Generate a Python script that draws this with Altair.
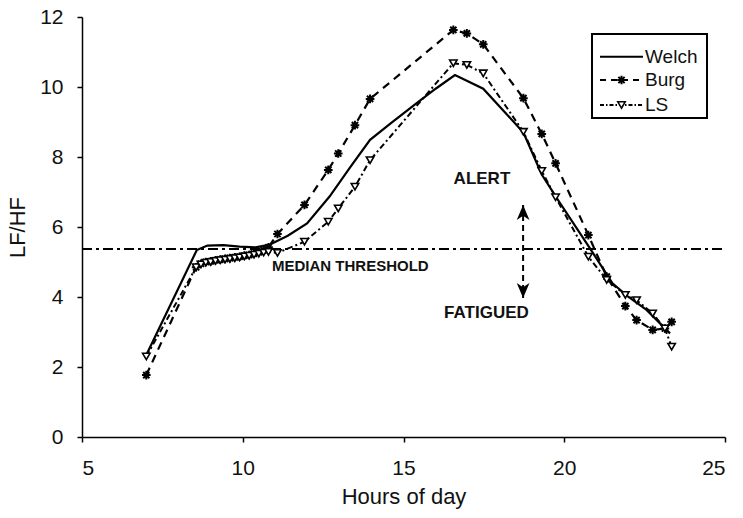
import altair as alt
import pandas as pd

# Sample times (hours of day) shared by the Burg and LS estimates
hours = [7.0, 8.55, 8.7, 8.85, 9.0, 9.15, 9.3, 9.45, 9.6, 9.75, 9.9, 10.05, 10.2,
         10.35, 10.5, 10.65, 10.8, 11.08, 11.92, 12.66, 12.97, 13.49, 13.96,
         16.55, 16.97, 17.48, 18.73, 19.3, 19.73, 20.75, 21.32, 21.9, 22.25,
         22.75, 23.13, 23.34]
burg = [1.77, 4.85, 4.95, 5.0, 5.02, 5.05, 5.07, 5.09, 5.11, 5.13, 5.15, 5.18, 5.2,
        5.24, 5.28, 5.34, 5.42, 5.8, 6.63, 7.63, 8.1, 8.91, 9.66,
        11.63, 11.53, 11.22, 9.68, 8.66, 7.82, 5.77, 4.58, 3.74, 3.34,
        3.06, 3.1, 3.29]
ls = [2.3, 4.85, 4.93, 4.98, 5.0, 5.03, 5.05, 5.07, 5.09, 5.11, 5.13, 5.16, 5.18,
      5.21, 5.24, 5.27, 5.29, 5.26, 5.58, 6.15, 6.53, 7.15, 7.91,
      10.68, 10.63, 10.39, 8.72, 7.6, 6.85, 5.15, 4.49, 4.06, 3.91,
      3.53, 3.1, 2.58]

# Welch estimate (drawn as a plain line)
welch_hours = [7.0, 8.57, 8.9, 9.4, 9.9, 10.4, 10.85, 11.4, 12.0, 12.7, 13.35,
               13.96, 14.6, 15.4, 16.0, 16.6, 17.48, 18.73, 19.3, 19.75, 20.8,
               21.5, 22.0, 22.56, 23.29]
welch = [2.34, 5.34, 5.47, 5.48, 5.44, 5.42, 5.5, 5.75, 6.1, 6.87, 7.72,
         8.49, 8.96, 9.53, 9.95, 10.34, 9.95, 8.7, 7.5, 6.85, 5.39,
         4.39, 4.0, 3.63, 2.96]

median_threshold = 5.37
arrow_hour = 18.72
arrow_top = 6.63
arrow_bottom = 3.97

x_ticks = [5, 10, 15, 20, 25]
y_ticks = [0, 2, 4, 6, 8, 10, 12]

notes = pd.DataFrame({
    "label": ["ALERT", "FATIGUED"],
    "h": [17.44, 17.58],
    "v": [7.37, 3.54],
})
median_note = pd.DataFrame({"label": ["MEDIAN THRESHOLD"], "h": [10.91], "v": [4.89]})

pts = pd.DataFrame({"h": hours, "burg": burg, "ls": ls})
wdf = pd.DataFrame({"h": welch_hours, "v": welch})
thr = pd.DataFrame({"h": [5], "h2": [25], "v": [median_threshold]})
arr = pd.DataFrame({"h": [arrow_hour], "top": [arrow_top], "bottom": [arrow_bottom]})

FONT = "Liberation Sans"
xs = alt.Scale(domain=[5, 25], nice=False, zero=False)
ys = alt.Scale(domain=[0, 12], nice=False)

x_axis = alt.Axis(values=x_ticks, title="Hours of day", grid=False, domainColor="black",
                  domainWidth=1.5, tickColor="black", tickSize=5, tickWidth=1.5,
                  labelFontSize=21, labelColor="#111", labelPadding=15,
                  titleFontSize=22, titleFontWeight="normal", titleColor="#111",
                  titlePadding=8, labelFont=FONT, titleFont=FONT)
y_axis = alt.Axis(values=y_ticks, title="LF/HF", grid=False, domainColor="black",
                  domainWidth=1.5, tickColor="black", tickSize=5, tickWidth=1.5,
                  labelFontSize=21, labelColor="#111", labelPadding=14,
                  titleFontSize=22, titleFontWeight="normal", titleColor="#111",
                  titlePadding=10, labelFont=FONT, titleFont=FONT)

X = alt.X("h:Q", scale=xs, axis=x_axis)
ASTERISK = "M-1,0L1,0M0,-1L0,1M-0.72,-0.72L0.72,0.72M-0.72,0.72L0.72,-0.72"
ARROW_UP = "M0,-1L0.85,1L0,0.45L-0.85,1Z"
ARROW_DOWN = "M0,1L0.85,-1L0,-0.45L-0.85,-1Z"

threshold_line = alt.Chart(thr).mark_rule(color="black", strokeWidth=2,
                                          strokeDash=[10, 4, 3, 4]).encode(
    x=X, x2="h2:Q", y=alt.Y("v:Q", scale=ys, axis=y_axis))

welch_line = alt.Chart(wdf).mark_line(color="black", strokeWidth=2.2).encode(
    x=X, y=alt.Y("v:Q", scale=ys, axis=y_axis), order="h:Q")

burg_line = alt.Chart(pts).mark_line(color="black", strokeWidth=2.2,
                                     strokeDash=[8, 6]).encode(
    x=X, y=alt.Y("burg:Q", scale=ys, axis=y_axis), order="h:Q")
burg_pts = alt.Chart(pts).mark_point(shape=ASTERISK, size=75, filled=False,
                                     color="black", strokeWidth=2, opacity=1).encode(
    x=X, y=alt.Y("burg:Q", scale=ys, axis=y_axis))

ls_line = alt.Chart(pts).mark_line(color="black", strokeWidth=2,
                                   strokeDash=[6, 3, 2, 3]).encode(
    x=X, y=alt.Y("ls:Q", scale=ys, axis=y_axis), order="h:Q")
ls_pts = alt.Chart(pts).mark_point(shape="triangle-down", size=55, filled=True,
                                   fill="white", stroke="black", strokeWidth=1.6,
                                   opacity=1).encode(
    x=X, y=alt.Y("ls:Q", scale=ys, axis=y_axis))

arrow_shaft = alt.Chart(arr).mark_rule(color="black", strokeWidth=2,
                                       strokeDash=[6, 4]).encode(
    x=X, y=alt.Y("top:Q", scale=ys, axis=y_axis), y2="bottom:Q")
arrow_head_up = alt.Chart(arr).mark_point(shape=ARROW_UP, size=225, filled=True,
                                          color="black", opacity=1, yOffset=7.5).encode(
    x=X, y=alt.Y("top:Q", scale=ys, axis=y_axis))
arrow_head_down = alt.Chart(arr).mark_point(shape=ARROW_DOWN, size=225, filled=True,
                                            color="black", opacity=1, yOffset=-7.5).encode(
    x=X, y=alt.Y("bottom:Q", scale=ys, axis=y_axis))

note_text = alt.Chart(notes).mark_text(font=FONT, fontSize=17, fontWeight="bold",
                                       color="#111").encode(
    x=X, y=alt.Y("v:Q", scale=ys, axis=y_axis), text="label:N")
median_text = alt.Chart(median_note).mark_text(font=FONT, fontSize=15, fontWeight="bold",
                                               color="#111", align="left").encode(
    x=X, y=alt.Y("v:Q", scale=ys, axis=y_axis), text="label:N")

# Legend box drawn in plot-area pixels
one = alt.Data(values=[{}])
legend_box = alt.Chart(one).mark_rect(fill="white", stroke="black", strokeWidth=2).encode(
    x=alt.value(510), x2=alt.value(625), y=alt.value(17), y2=alt.value(101))
leg_rows = [("Welch", 39.7, None), ("Burg", 63, [6, 5]), ("LS", 88, [4, 2, 1.5, 2])]
legend_layers = [legend_box]
for name, yy, dash in leg_rows:
    kw = {"color": "black", "strokeWidth": 2}
    if dash:
        kw["strokeDash"] = dash
    legend_layers.append(alt.Chart(one).mark_rule(**kw).encode(
        x=alt.value(518), x2=alt.value(561), y=alt.value(yy)))
    legend_layers.append(alt.Chart(one).mark_text(font=FONT, fontSize=19, align="left",
                                                  baseline="middle", color="#111").encode(
        x=alt.value(563), y=alt.value(yy), text=alt.value(name)))
legend_layers.append(alt.Chart(one).mark_point(shape=ASTERISK, size=75, filled=False,
                                               color="black", strokeWidth=2, opacity=1).encode(
    x=alt.value(539.5), y=alt.value(63)))
legend_layers.append(alt.Chart(one).mark_point(shape="triangle-down", size=55, filled=True,
                                               fill="white", stroke="black", strokeWidth=1.6,
                                               opacity=1).encode(
    x=alt.value(539.5), y=alt.value(88)))

chart = alt.layer(
    threshold_line, welch_line, burg_line, ls_line, burg_pts, ls_pts,
    arrow_shaft, arrow_head_up, arrow_head_down, note_text, median_text,
    *legend_layers
).properties(
    width=643, height=420,
    autosize=alt.AutoSizeParams(type="none"),
    padding={"left": 82, "top": 17, "right": 18, "bottom": 81},
    background="white",
).configure_view(stroke=None)

chart.save("out.html", embed_options={"renderer": "svg", "actions": False})
